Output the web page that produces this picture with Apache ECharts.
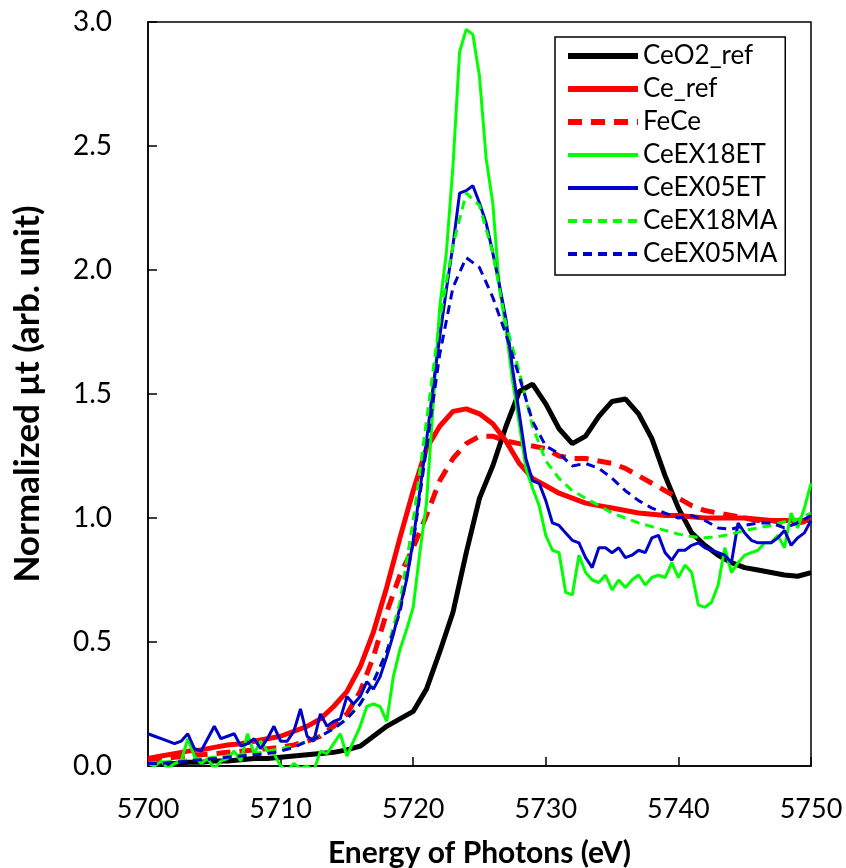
<!DOCTYPE html>
<html>
<head>
<meta charset="utf-8">
<title>Ce L3-edge XANES</title>
<script src="https://cdn.jsdelivr.net/npm/echarts@6/dist/echarts.min.js"></script>
<style>
  html, body { margin: 0; padding: 0; background: #fff; }
  #chart { width: 846px; height: 868px; }
</style>
</head>
<body>
<div id="chart"></div>
<script>
// energy grids (eV)
var energy1 = [5700, 5701, 5702, 5703, 5704, 5705, 5706, 5707, 5708, 5709,
  5710, 5711, 5712, 5713, 5714, 5715, 5716, 5717, 5718, 5719,
  5720, 5721, 5722, 5723, 5724, 5725, 5726, 5727, 5728, 5729,
  5730, 5731, 5732, 5733, 5734, 5735, 5736, 5737, 5738, 5739,
  5740, 5741, 5742, 5743, 5744, 5745, 5746, 5747, 5748, 5749,
  5750]
var energyHalf = [5700, 5700.5, 5701, 5701.5, 5702, 5702.5, 5703, 5703.5, 5704, 5704.5,
  5705, 5705.5, 5706, 5706.5, 5707, 5707.5, 5708, 5708.5, 5709, 5709.5,
  5710, 5710.5, 5711, 5711.5, 5712, 5712.5, 5713, 5713.5, 5714, 5714.5,
  5715, 5715.5, 5716, 5716.5, 5717, 5717.5, 5718, 5718.5, 5719, 5719.5,
  5720, 5720.5, 5721, 5721.5, 5722, 5722.5, 5723, 5723.5, 5724, 5724.5,
  5725, 5725.5, 5726, 5726.5, 5727, 5727.5, 5728, 5728.5, 5729, 5729.5,
  5730, 5730.5, 5731, 5731.5, 5732, 5732.5, 5733, 5733.5, 5734, 5734.5,
  5735, 5735.5, 5736, 5736.5, 5737, 5737.5, 5738, 5738.5, 5739, 5739.5,
  5740, 5740.5, 5741, 5741.5, 5742, 5742.5, 5743, 5743.5, 5744, 5744.5,
  5745, 5745.5, 5746, 5746.5, 5747, 5747.5, 5748, 5748.5, 5749, 5749.5,
  5750]

var xTicks = [5700, 5710, 5720, 5730, 5740, 5750]
var yTicks = [0, 0.5, 1.0, 1.5, 2.0, 2.5, 3.0]

// references, 1 eV step
var ceo2Ref = [0.01, 0.01, 0.01, 0.015, 0.015, 0.02, 0.02, 0.025, 0.03, 0.03,
  0.035, 0.04, 0.045, 0.05, 0.055, 0.065, 0.08, 0.12, 0.16, 0.19,
  0.22, 0.31, 0.46, 0.62, 0.86, 1.08, 1.21, 1.37, 1.51, 1.54,
  1.46, 1.36, 1.30, 1.33, 1.41, 1.47, 1.48, 1.42, 1.32, 1.17,
  1.04, 0.94, 0.89, 0.85, 0.82, 0.80, 0.79, 0.78, 0.77, 0.765,
  0.78]
var ceRef = [0.03, 0.04, 0.05, 0.06, 0.065, 0.075, 0.085, 0.09, 0.10, 0.11,
  0.12, 0.14, 0.16, 0.19, 0.24, 0.30, 0.40, 0.54, 0.72, 0.92,
  1.11, 1.28, 1.37, 1.43, 1.44, 1.42, 1.38, 1.31, 1.22, 1.16,
  1.13, 1.10, 1.08, 1.06, 1.05, 1.04, 1.03, 1.02, 1.015, 1.01,
  1.01, 1.005, 1.0, 1.0, 1.0, 1.0, 0.995, 0.99, 0.99, 0.99,
  0.99]
var feCe = [0.02, 0.03, 0.035, 0.04, 0.045, 0.05, 0.055, 0.06, 0.065, 0.07,
  0.075, 0.085, 0.10, 0.12, 0.16, 0.21, 0.30, 0.44, 0.62, 0.77,
  0.88, 1.01, 1.15, 1.24, 1.30, 1.33, 1.33, 1.31, 1.30, 1.29,
  1.28, 1.25, 1.24, 1.24, 1.23, 1.22, 1.20, 1.17, 1.14, 1.11,
  1.08, 1.05, 1.03, 1.02, 1.01, 1.00, 0.99, 0.99, 0.98, 0.98,
  0.99]
var ceEX18MA = [0.01, 0.015, 0.02, 0.025, 0.03, 0.035, 0.04, 0.045, 0.05, 0.06,
  0.07, 0.08, 0.10, 0.12, 0.15, 0.19, 0.25, 0.34, 0.46, 0.66,
  0.99, 1.39, 1.80, 2.10, 2.31, 2.26, 2.07, 1.78, 1.59, 1.37,
  1.23, 1.16, 1.11, 1.08, 1.05, 1.02, 1.00, 0.98, 0.965, 0.95,
  0.935, 0.925, 0.92, 0.925, 0.935, 0.95, 0.96, 0.97, 0.985, 0.995,
  1.02]
var ceEX05MA = [0.01, 0.01, 0.015, 0.02, 0.025, 0.03, 0.035, 0.04, 0.045, 0.05,
  0.06, 0.075, 0.10, 0.12, 0.15, 0.19, 0.25, 0.34, 0.46, 0.62,
  0.90, 1.28, 1.66, 1.93, 2.05, 2.01, 1.89, 1.74, 1.57, 1.39,
  1.29, 1.26, 1.21, 1.22, 1.20, 1.16, 1.11, 1.07, 1.04, 1.02,
  1.00, 1.01, 0.99, 0.96, 0.955, 0.97, 0.98, 0.98, 0.96, 0.98,
  1.01]

// noisy samples, 0.5 eV step
var ceEX18ET = [0.01, 0.00, 0.02, -0.01, 0.01, 0.02, 0.11, 0.04, 0.01, 0.03,
  -0.01, 0.02, 0.03, 0.06, 0.02, 0.13, 0.05, 0.10, 0.06, 0.05,
  0.00, -0.02, 0.01, -0.01, 0.00, -0.02, 0.06, 0.05, 0.09, 0.13,
  0.04, 0.10, 0.16, 0.24, 0.25, 0.24, 0.18, 0.36, 0.47, 0.55,
  0.64, 0.86, 1.06, 1.45, 1.85, 2.07, 2.42, 2.88, 2.97, 2.95,
  2.78, 2.45, 2.27, 1.93, 1.76, 1.55, 1.38, 1.20, 1.12, 1.05,
  0.93, 0.87, 0.86, 0.70, 0.69, 0.85, 0.78, 0.75, 0.74, 0.77,
  0.71, 0.75, 0.72, 0.75, 0.77, 0.73, 0.76, 0.77, 0.76, 0.82,
  0.76, 0.81, 0.78, 0.65, 0.64, 0.66, 0.73, 0.88, 0.78, 0.82,
  0.85, 0.86, 0.87, 0.90, 0.90, 0.93, 0.88, 1.02, 0.96, 1.04,
  1.14]
var ceEX05ET = [0.13, 0.12, 0.11, 0.10, 0.09, 0.10, 0.13, 0.07, 0.06, 0.11,
  0.16, 0.11, 0.12, 0.13, 0.08, 0.09, 0.11, 0.07, 0.11, 0.16,
  0.10, 0.10, 0.14, 0.23, 0.12, 0.10, 0.21, 0.16, 0.18, 0.19,
  0.28, 0.25, 0.28, 0.34, 0.31, 0.36, 0.44, 0.53, 0.64, 0.75,
  0.91, 1.11, 1.31, 1.53, 1.73, 1.92, 2.10, 2.31, 2.32, 2.34,
  2.27, 2.19, 2.07, 1.94, 1.80, 1.60, 1.42, 1.24, 1.15, 1.14,
  1.07, 0.98, 0.97, 0.94, 0.91, 0.90, 0.84, 0.80, 0.88, 0.88,
  0.86, 0.88, 0.84, 0.85, 0.87, 0.86, 0.92, 0.93, 0.86, 0.83,
  0.87, 0.87, 0.89, 0.90, 0.88, 0.87, 0.86, 0.85, 0.82, 0.98,
  0.94, 0.91, 0.90, 0.90, 0.90, 0.92, 0.95, 0.89, 0.92, 0.94,
  0.99]

function pairs(xs, ys) {
  return xs.map(function (x, i) { return [x, ys[i]] })
}

function line(name, xs, ys, color, width, dash) {
  return {
    name: name,
    type: 'line',
    symbol: 'none',
    data: pairs(xs, ys),
    lineStyle: { color: color, width: width, type: dash || 'solid' },
    itemStyle: { color: color },
    emphasis: { disabled: true },
  }
}

// legend samples are drawn a bit heavier, like the original
function legendItem(name, width) {
  return { name: name, lineStyle: { width: width } }
}

var chart = echarts.init(document.getElementById('chart'))
chart.setOption({
  animation: false,
  backgroundColor: '#fff',
  grid: {
    left: 148, right: 35, top: 22, bottom: 102,
    outerBoundsMode: 'none',
    show: true, borderColor: '#000', borderWidth: 1.5,
  },
  legend: {
    orient: 'vertical',
    left: 555, top: 37,
    itemWidth: 70, itemHeight: 14, itemGap: 7, itemTextGap: 6,
    padding: [6, 8, 8, 10],
    borderColor: '#000', borderWidth: 1.5,
    // hide the marker dot, keep the line sample
    itemStyle: { opacity: 0 },
    textStyle: { fontFamily: 'Lato', fontSize: 26, lineHeight: 24, color: '#000' },
    data: [
      legendItem('CeO2_ref', 6),
      legendItem('Ce_ref', 6),
      legendItem('FeCe', 6),
      legendItem('CeEX18ET', 4),
      legendItem('CeEX05ET', 4),
      legendItem('CeEX18MA', 4),
      legendItem('CeEX05MA', 4),
    ],
  },
  xAxis: {
    type: 'value',
    min: xTicks[0], max: xTicks[xTicks.length - 1], interval: 10,
    name: 'Energy of Photons (eV)',
    nameLocation: 'middle', nameGap: 72,
    nameTextStyle: { fontFamily: 'Lato', fontWeight: 'bold', fontSize: 30, color: '#000' },
    axisLine: { lineStyle: { color: '#000', width: 1.5 } },
    axisTick: { inside: true, length: 9, lineStyle: { color: '#000', width: 1.5 } },
    axisLabel: {
      margin: 30, fontFamily: 'Lato', fontSize: 27, color: '#000',
      formatter: function (v) { return String(v) },
    },
    splitLine: { show: false },
  },
  yAxis: {
    type: 'value',
    min: yTicks[0], max: yTicks[yTicks.length - 1], interval: 0.5,
    name: 'Normalized μt (arb. unit)',
    nameLocation: 'middle', nameGap: 103,
    nameTextStyle: { fontFamily: 'Lato', fontWeight: 'bold', fontSize: 35, color: '#000' },
    axisLine: { lineStyle: { color: '#000', width: 1.5 } },
    axisTick: { inside: true, length: 9, lineStyle: { color: '#000', width: 1.5 } },
    axisLabel: {
      margin: 36, fontFamily: 'Lato', fontSize: 28, color: '#000',
      formatter: function (v) { return v.toFixed(1) },
    },
    splitLine: { show: false },
  },
  series: [
    line('CeO2_ref', energy1, ceo2Ref, '#000000', 5),
    line('Ce_ref', energy1, ceRef, '#ff0000', 5),
    line('FeCe', energy1, feCe, '#ff0000', 5, [14, 9]),
    line('CeEX18ET', energyHalf, ceEX18ET, '#00ff00', 3),
    line('CeEX05ET', energyHalf, ceEX05ET, '#0000cc', 3),
    line('CeEX18MA', energy1, ceEX18MA, '#00ff00', 3, [9, 6]),
    line('CeEX05MA', energy1, ceEX05MA, '#0000cc', 3, [9, 6]),
  ],
})
</script>
</body>
</html>
